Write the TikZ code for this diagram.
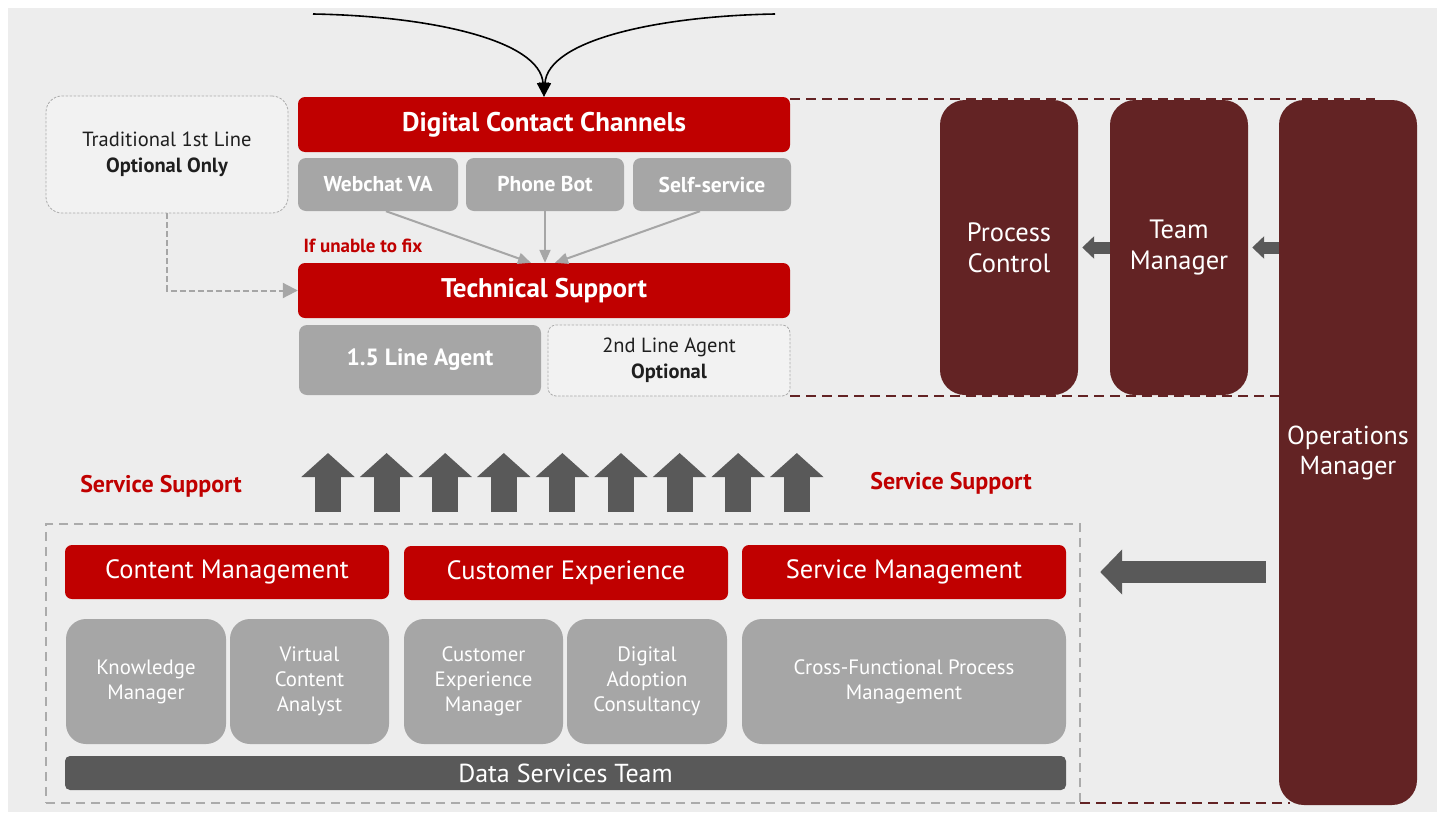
\documentclass[tikz,border=0pt]{standalone}
\usepackage{fontspec}
\setmainfont{PT Sans}
\usetikzlibrary{arrows.meta,calc}
\definecolor{cbg}{HTML}{EDEDED}
\definecolor{cred}{HTML}{C00000}
\definecolor{cgrey}{HTML}{A6A6A6}
\definecolor{cdark}{HTML}{595959}
\definecolor{cmaroon}{HTML}{632324}
\definecolor{clight}{HTML}{F2F2F2}
\definecolor{ctext}{HTML}{1F1F1F}
\definecolor{cdash}{HTML}{ABABAB}
\newcommand\fHead{\fontsize{27}{32}\selectfont\bfseries}
\newcommand\fSub{\fontsize{21.5}{26}\selectfont\bfseries}
\newcommand\fNote{\fontsize{20.5}{26}\selectfont}
\newcommand\fLine{\fontsize{23.5}{28}\selectfont\bfseries}
\newcommand\fRed{\fontsize{19}{22}\selectfont\bfseries}
\newcommand\fSS{\fontsize{24}{28}\selectfont\bfseries}
\newcommand\fBig{\fontsize{26.5}{31}\selectfont}
\newcommand\fOps{\fontsize{26}{30}\selectfont}
\newcommand\fBox{\fontsize{20.8}{25}\selectfont}
\newcommand\fDst{\fontsize{26}{30}\selectfont}
\begin{document}
\begin{tikzpicture}[x=1pt,y=-1pt,
  box/.style={rectangle, inner sep=0pt, align=center, text=white},
  redbox/.style={box, fill=cred, rounded corners=7pt},
  subbox/.style={box, fill=cgrey, rounded corners=8pt},
  softbox/.style={box, fill=cgrey, rounded corners=20pt},
  optbox/.style={box, fill=clight, draw=cdash, line width=0.8pt, dash pattern=on 2.5pt off 1.5pt, text=ctext},
  mbox/.style={box, fill=cmaroon, rounded corners=25pt, minimum width=138pt},
  mdash/.style={draw=cmaroon, line width=2.2pt, dash pattern=on 10pt off 6pt},
  garrow/.style={draw=cgrey, line width=2pt, -{Triangle[length=13pt,width=11pt]}},
]
\useasboundingbox (0,0) rectangle (1442,814);
\fill[white] (0,0) rectangle (1442,814);
\fill[cbg] (8,8) rectangle (1437,812);

% maroon dashed guide lines
\draw[mdash] (790,99) -- (1375,99);
\draw[mdash] (790,396) -- (1281,396);
\draw[mdash] (1080,803) -- (1290,803);

% service support frame
\node[draw=cdash, line width=2pt, dash pattern=on 9pt off 6pt, minimum width=1034pt, minimum height=279pt, inner sep=0pt] (frame) at (563,663.5) {};

% top section
\node[redbox, minimum width=492pt, minimum height=55pt, font=\fHead] (dcc) at (544,124.5) {Digital Contact Channels};
\node[subbox, minimum width=160pt, minimum height=53pt, font=\fSub] (web) at (378,184.5) {Webchat VA};
\node[subbox, minimum width=158pt, minimum height=53pt, font=\fSub] (phone) at (545,184.5) {Phone Bot};
\node[subbox, minimum width=158pt, minimum height=53pt, font=\fSub] (self) at (712,184.5) {Self-service};
\node[optbox, rounded corners=16pt, minimum width=242pt, minimum height=117pt, font=\fNote] (trad) at (167,154.5) {Traditional 1st Line\\\textbf{Optional Only}};
\node[text=cred, font=\fRed, inner sep=0pt] (unable) at (363,246) {If unable to fix};
\node[redbox, minimum width=492pt, minimum height=55pt, font=\fHead] (ts) at (544,290.5) {Technical Support};
\node[subbox, minimum width=242pt, minimum height=70pt, font=\fLine] (l15) at (420,360) {1.5 Line Agent};
\node[optbox, rounded corners=8pt, minimum width=242pt, minimum height=71pt, font=\fNote] (l2) at (669,360.5) {2nd Line Agent\\\textbf{Optional}};

% right column
\node[mbox, minimum height=295pt, font=\fBig] (pc) at (1009,247.5) {Process\\Control};
\node[mbox, minimum height=295pt, font=\fBig] (tm) at (1179,247.5) {Team\\Manager};
\node[mbox, minimum height=705pt, font=\fOps] (om) at (1348,452.5) {Operations\\Manager};

% service support labels
\node[text=cred, font=\fSS, inner sep=0pt] (ssl) at (161,486) {Service Support};
\node[text=cred, font=\fSS, inner sep=0pt] (ssr) at (951,483) {Service Support};

% lower section
\node[redbox, minimum width=324pt, minimum height=54pt, font=\fBig] (cm) at (227,572) {Content Management};
\node[redbox, minimum width=324pt, minimum height=54pt, font=\fBig] (ce) at (566,573) {Customer Experience};
\node[redbox, minimum width=324pt, minimum height=54pt, font=\fBig] (sm) at (904,572) {Service Management};
\node[softbox, minimum width=160pt, minimum height=125pt, font=\fBox] (km) at (146,681.5) {Knowledge\\Manager};
\node[softbox, minimum width=159pt, minimum height=125pt, font=\fBox] (vca) at (309.5,681.5) {Virtual\\Content\\Analyst};
\node[softbox, minimum width=159pt, minimum height=125pt, font=\fBox] (cem) at (483.5,681.5) {Customer\\Experience\\Manager};
\node[softbox, minimum width=160pt, minimum height=125pt, font=\fBox] (dac) at (647,681.5) {Digital\\Adoption\\Consultancy};
\node[softbox, minimum width=324pt, minimum height=125pt, font=\fBox] (cfpm) at (904,681.5) {Cross-Functional Process\\Management};
\node[box, fill=cdark, rounded corners=5pt, minimum width=1001pt, minimum height=34pt, font=\fDst] (dst) at (565.5,773) {Data Services Team};

% incoming curves
\coordinate (inL) at (313,14);
\coordinate (inR) at (775,14);
\draw[black, line width=1.6pt, -{Triangle[length=14pt,width=12pt]}] (inL) .. controls (430,16) and (540,40) .. (dcc.north);
\draw[black, line width=1.6pt, -{Triangle[length=14pt,width=12pt]}] (inR) .. controls (658,16) and (548,40) .. (dcc.north);

% channel arrows
\draw[garrow] ($(web.south)+(8,0)$) -- ($(ts.north)+(-13,0)$);
\draw[garrow] (phone.south) -- (phone.south |- ts.north);
\draw[garrow] ($(self.south)+(-12,0)$) -- ($(ts.north)+(11,0)$);
\draw[draw=cgrey, line width=2pt, dash pattern=on 6pt off 3pt, -{Triangle[length=15pt,width=15pt]}] (trad.south) |- (ts.west);

% block arrows
\foreach \i in {0,...,8}{
  \draw[cdark, line width=26pt, -{Triangle[length=24pt,width=52pt]}] ({328+58.6*\i},512) -- ({328+58.6*\i},453);
}
\draw[cdark, line width=22pt, -{Triangle[length=22pt,width=44pt]}] ($(om.west |- sm.east)+(-13,0)$) -- ($(sm.east)+(34,0)$);
\draw[cdark, line width=12pt, -{Triangle[length=12pt,width=22pt]}] (tm.west) -- ($(pc.east)+(4,0)$);
\draw[cdark, line width=12pt, -{Triangle[length=12pt,width=22pt]}] (om.west |- tm.west) -- ($(tm.east)+(4,0)$);
\end{tikzpicture}
\end{document}
